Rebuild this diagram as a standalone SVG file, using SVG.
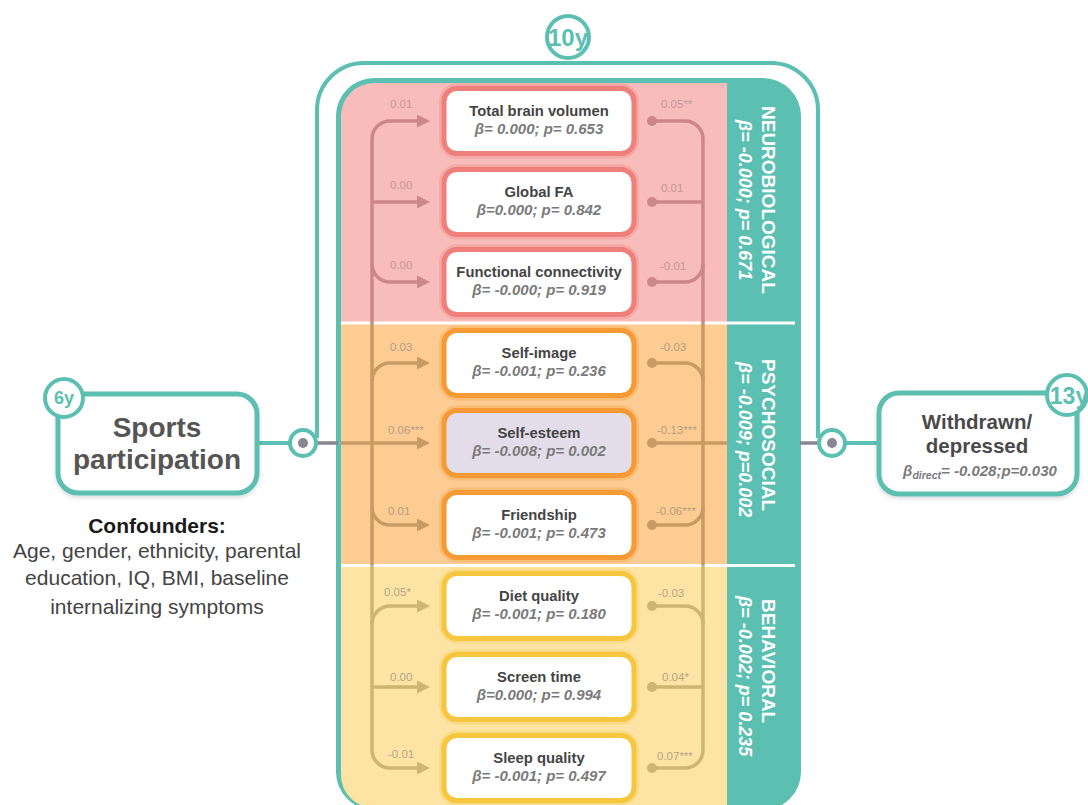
<svg xmlns="http://www.w3.org/2000/svg" width="1088" height="805" viewBox="0 0 1088 805">
<defs>
<style>
text{font-family:"Liberation Sans",Arial,Helvetica,sans-serif}
.teal{fill:none;stroke:#5bbfb1;stroke-width:4}
.box{fill:#fff;stroke-width:5}
.halo{fill:none;stroke-width:10;opacity:.3}
.nb{stroke:#ee7f7a}
.ps{stroke:#f59a35}
.bh{stroke:#f6c63f}
.t{font-size:14.8px;font-weight:bold;fill:#444;text-anchor:middle}
.b{font-size:15px;font-weight:bold;font-style:italic;fill:#7a7a7a;text-anchor:middle}
.cn{fill:none;stroke-width:3.5}
.cN{stroke:#cc8886}
.cP{stroke:#c89a64}
.cB{stroke:#cdb674}
.lb{font-size:11.5px}
.lN{fill:#c49896}
.lP{fill:#b99c80}
.lB{fill:#b5a582}
.col{fill:#fff;font-weight:bold}
.badge{fill:#fff;stroke:#5bbfb1;stroke-width:4}
.bt{fill:#5bbfb1;font-weight:bold;text-anchor:middle}
.node{fill:#fff;stroke:#5bbfb1;stroke-width:5}
</style>
<clipPath id="clipIn"><rect x="341" y="83" width="455" height="725" rx="33"/></clipPath>
<marker id="aN" viewBox="0 0 12 12" refX="0" refY="6" markerWidth="13" markerHeight="13" markerUnits="userSpaceOnUse" orient="auto"><path d="M0,0L12,6L0,12z" fill="#cc8886"/></marker>
<marker id="aP" viewBox="0 0 12 12" refX="0" refY="6" markerWidth="13" markerHeight="13" markerUnits="userSpaceOnUse" orient="auto"><path d="M0,0L12,6L0,12z" fill="#c89a64"/></marker>
<marker id="aB" viewBox="0 0 12 12" refX="0" refY="6" markerWidth="13" markerHeight="13" markerUnits="userSpaceOnUse" orient="auto"><path d="M0,0L12,6L0,12z" fill="#cdb674"/></marker>
<marker id="dN" viewBox="0 0 10 10" refX="5" refY="5" markerWidth="10" markerHeight="10" markerUnits="userSpaceOnUse"><circle cx="5" cy="5" r="5" fill="#cc8886"/></marker>
<marker id="dP" viewBox="0 0 10 10" refX="5" refY="5" markerWidth="10" markerHeight="10" markerUnits="userSpaceOnUse"><circle cx="5" cy="5" r="5" fill="#c89a64"/></marker>
<marker id="dB" viewBox="0 0 10 10" refX="5" refY="5" markerWidth="10" markerHeight="10" markerUnits="userSpaceOnUse"><circle cx="5" cy="5" r="5" fill="#cdb674"/></marker>
<filter id="sh" x="-10%" y="-10%" width="120%" height="130%"><feDropShadow dx="0" dy="2" stdDeviation="2" flood-color="#000" flood-opacity="0.15"/></filter>
</defs>
<rect width="1088" height="805" fill="#fff"/>

<g id="panel">
<path class="teal" d="M317,438 V110 A47,47 0 0 1 364,63 H771 A47,47 0 0 1 818,110 V438"/>
<rect x="336" y="78" width="465" height="732" rx="38" fill="#5bbfb1"/>
<g clip-path="url(#clipIn)">
<rect x="341" y="83" width="386" height="240" fill="#f8bcbb"/>
<rect x="341" y="323" width="386" height="242" fill="#fccc93"/>
<rect x="341" y="565" width="386" height="245" fill="#fde4a4"/>
</g>
<path d="M341,323 H795 M341,565.5 H795" stroke="#fff" stroke-width="3"/>
<text class="col" font-size="19" transform="translate(762,106) rotate(90)">NEUROBIOLOGICAL</text>
<text class="col" font-size="18" font-style="italic" transform="translate(739,120) rotate(90)">β= -0.000; p= 0.671</text>
<text class="col" font-size="19" transform="translate(762,359) rotate(90)">PSYCHOSOCIAL</text>
<text class="col" font-size="18" font-style="italic" transform="translate(739,362) rotate(90)">β= -0.009; p=0.002</text>
<text class="col" font-size="19" transform="translate(762,599) rotate(90)">BEHAVIORAL</text>
<text class="col" font-size="18" font-style="italic" transform="translate(739,596) rotate(90)">β= -0.002; p= 0.235</text>
</g>

<g id="connectors">
<path d="M257,443 H290 M846,443 H879" stroke="#5bbfb1" stroke-width="4"/>
<path d="M303,443 H338 M800,443 H832" stroke="#8a8590" stroke-width="3.5"/>
<path class="cn cN" d="M372,139 V323"/>
<path class="cn cP" d="M372,323 V565"/>
<path class="cn cB" d="M372,565 V750"/>
<path class="cn cN" d="M703,139 V323"/>
<path class="cn cP" d="M703,323 V565"/>
<path class="cn cB" d="M703,565 V750"/>
<path class="cn cN" marker-end="url(#aN)" d="M372,139 A18,18 0 0 1 390,121 H417"/>
<path class="cn cN" marker-end="url(#aN)" d="M372,202 H417"/>
<path class="cn cN" marker-end="url(#aN)" d="M372,264 A18,18 0 0 0 390,282 H417"/>
<path class="cn cN" marker-start="url(#dN)" d="M652,121 H685 A18,18 0 0 1 703,139"/>
<path class="cn cN" marker-start="url(#dN)" d="M652,202 H703"/>
<path class="cn cN" marker-start="url(#dN)" d="M652,282 H685 A18,18 0 0 0 703,264"/>
<path class="cn cP" marker-end="url(#aP)" d="M372,381 A18,18 0 0 1 390,363 H417"/>
<path class="cn cP" marker-end="url(#aP)" d="M341,443 H417"/>
<path class="cn cP" marker-end="url(#aP)" d="M372,507 A18,18 0 0 0 390,525 H417"/>
<path class="cn cP" marker-start="url(#dP)" d="M652,363 H685 A18,18 0 0 1 703,381"/>
<path class="cn cP" marker-start="url(#dP)" d="M652,443 H727"/>
<path class="cn cP" marker-start="url(#dP)" d="M652,525 H685 A18,18 0 0 0 703,507"/>
<path class="cn cB" marker-end="url(#aB)" d="M372,624 A18,18 0 0 1 390,606 H417"/>
<path class="cn cB" marker-end="url(#aB)" d="M372,687 H417"/>
<path class="cn cB" marker-end="url(#aB)" d="M372,750 A18,18 0 0 0 390,768 H417"/>
<path class="cn cB" marker-start="url(#dB)" d="M652,606 H685 A18,18 0 0 1 703,624"/>
<path class="cn cB" marker-start="url(#dB)" d="M652,687 H703"/>
<path class="cn cB" marker-start="url(#dB)" d="M652,768 H685 A18,18 0 0 0 703,750"/>
<g class="lb">
<text class="lN" x="390" y="108">0.01</text>
<text class="lN" x="390" y="189">0.00</text>
<text class="lN" x="390" y="269">0.00</text>
<text class="lN" x="661" y="108">0.05**</text>
<text class="lN" x="661" y="192">0.01</text>
<text class="lN" x="660" y="270">-0.01</text>
<text class="lP" x="390" y="351">0.03</text>
<text class="lP" x="388" y="434">0.06***</text>
<text class="lP" x="388" y="515">0.01</text>
<text class="lP" x="660" y="351">-0.03</text>
<text class="lP" x="657" y="434">-0.13***</text>
<text class="lP" x="656" y="515">-0.06***</text>
<text class="lB" x="384" y="596">0.05*</text>
<text class="lB" x="390" y="681">0.00</text>
<text class="lB" x="388" y="758">-0.01</text>
<text class="lB" x="658" y="597">-0.03</text>
<text class="lB" x="662" y="681">0.04*</text>
<text class="lB" x="657" y="760">0.07***</text>
</g>
</g>

<g id="junction-left">
<circle cx="303" cy="443" r="13" class="badge"/>
<circle cx="303" cy="443" r="5" fill="#8a8590"/>
</g>
<g id="junction-right">
<circle cx="832" cy="443" r="13" class="badge"/>
<circle cx="832" cy="443" r="5" fill="#8a8590"/>
</g>

<g id="n-tbv">
<rect class="halo nb" x="444" y="88.5" width="190" height="65" rx="13"/>
<rect class="box nb" x="444" y="88.5" width="190" height="65" rx="13"/>
<text class="t" x="539" y="116">Total brain volumen</text>
<text class="b" x="539" y="134">β= 0.000; p= 0.653</text>
</g>
<g id="n-gfa">
<rect class="halo nb" x="444" y="169.5" width="190" height="65" rx="13"/>
<rect class="box nb" x="444" y="169.5" width="190" height="65" rx="13"/>
<text class="t" x="539" y="197">Global FA</text>
<text class="b" x="539" y="215">β=0.000; p= 0.842</text>
</g>
<g id="n-fc">
<rect class="halo nb" x="444" y="249.5" width="190" height="65" rx="13"/>
<rect class="box nb" x="444" y="249.5" width="190" height="65" rx="13"/>
<text class="t" x="539" y="277">Functional connectivity</text>
<text class="b" x="539" y="295">β= -0.000; p= 0.919</text>
</g>
<g id="n-si">
<rect class="halo ps" x="444" y="330.5" width="190" height="65" rx="13"/>
<rect class="box ps" x="444" y="330.5" width="190" height="65" rx="13"/>
<text class="t" x="539" y="358">Self-image</text>
<text class="b" x="539" y="376">β= -0.001; p= 0.236</text>
</g>
<g id="n-se">
<rect class="halo ps" x="444" y="410.5" width="190" height="65" rx="13"/>
<rect class="box ps" x="444" y="410.5" width="190" height="65" rx="13" style="fill:#e3dde9"/>
<text class="t" x="539" y="438">Self-esteem</text>
<text class="b" x="539" y="456">β= -0.008; p= 0.002</text>
</g>
<g id="n-fr">
<rect class="halo ps" x="444" y="492.5" width="190" height="65" rx="13"/>
<rect class="box ps" x="444" y="492.5" width="190" height="65" rx="13"/>
<text class="t" x="539" y="520">Friendship</text>
<text class="b" x="539" y="538">β= -0.001; p= 0.473</text>
</g>
<g id="n-dq">
<rect class="halo bh" x="444" y="573.5" width="190" height="65" rx="13"/>
<rect class="box bh" x="444" y="573.5" width="190" height="65" rx="13"/>
<text class="t" x="539" y="601">Diet quality</text>
<text class="b" x="539" y="619">β= -0.001; p= 0.180</text>
</g>
<g id="n-st">
<rect class="halo bh" x="444" y="654.5" width="190" height="65" rx="13"/>
<rect class="box bh" x="444" y="654.5" width="190" height="65" rx="13"/>
<text class="t" x="539" y="682">Screen time</text>
<text class="b" x="539" y="700">β=0.000; p= 0.994</text>
</g>
<g id="n-sq">
<rect class="halo bh" x="444" y="735.5" width="190" height="65" rx="13"/>
<rect class="box bh" x="444" y="735.5" width="190" height="65" rx="13"/>
<text class="t" x="539" y="763">Sleep quality</text>
<text class="b" x="539" y="781">β= -0.001; p= 0.497</text>
</g>

<g id="badge-10y">
<circle class="badge" cx="568" cy="37" r="21"/>
<text class="bt" x="568" y="46" font-size="24">10y</text>
</g>

<g id="n-sports">
<rect class="node" x="58" y="394" width="199" height="99" rx="20" filter="url(#sh)"/>
<text x="157" y="437" font-size="28" font-weight="bold" fill="#555" text-anchor="middle">Sports</text>
<text x="157" y="469" font-size="28" font-weight="bold" fill="#555" text-anchor="middle">participation</text>
<circle class="badge" cx="64" cy="398" r="19"/>
<text class="bt" x="64" y="404" font-size="18">6y</text>
</g>

<g id="confounders">
<text x="157" y="533" font-size="21" font-weight="bold" fill="#1a1a1a" text-anchor="middle">Confounders:</text>
<text x="157" y="558" font-size="21" fill="#444" text-anchor="middle">Age, gender, ethnicity, parental</text>
<text x="157" y="585" font-size="21" fill="#444" text-anchor="middle">education, IQ, BMI, baseline</text>
<text x="157" y="614" font-size="21" fill="#444" text-anchor="middle">internalizing symptoms</text>
</g>

<g id="n-withdrawn">
<rect class="node" x="879" y="393" width="198" height="101" rx="20" filter="url(#sh)"/>
<text x="977" y="429" font-size="20.5" font-weight="bold" fill="#4a4a4a" text-anchor="middle">Withdrawn/</text>
<text x="977" y="453" font-size="20.5" font-weight="bold" fill="#4a4a4a" text-anchor="middle">depressed</text>
<text x="980" y="476" font-size="15" font-weight="bold" font-style="italic" fill="#7a7a7a" text-anchor="middle">β<tspan font-size="10.5" dy="3">direct</tspan><tspan dy="-3">= -0.028;p=0.030</tspan></text>
<circle class="badge" cx="1067" cy="395" r="20"/>
<text class="bt" x="1069" y="404" font-size="23">13y</text>
</g>
</svg>
